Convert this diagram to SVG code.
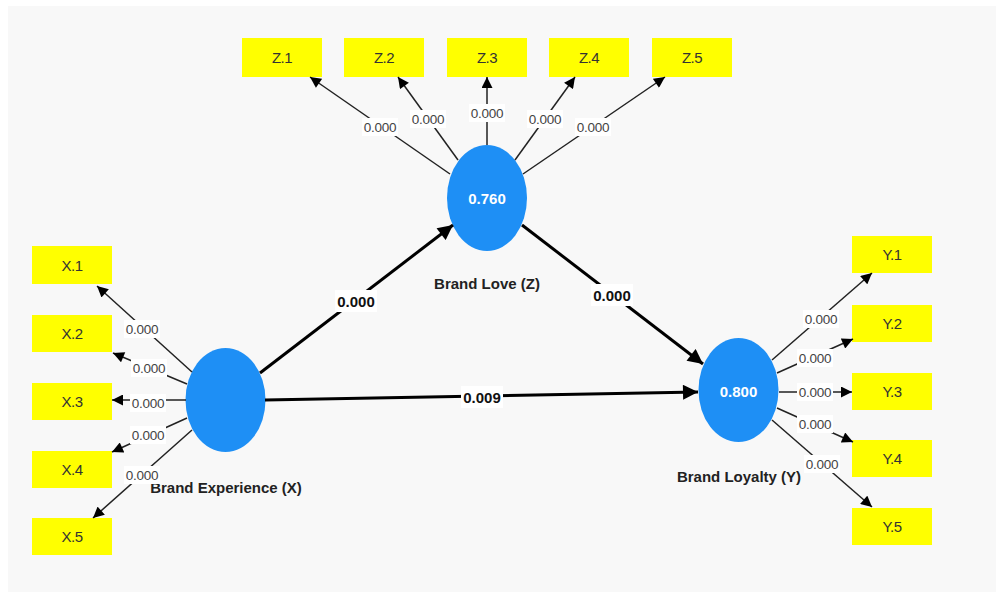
<svg xmlns="http://www.w3.org/2000/svg" width="996" height="592" viewBox="0 0 996 592">
<defs>
<marker id="ah" viewBox="0 0 10 10" refX="10" refY="5" markerWidth="12" markerHeight="11" orient="auto" markerUnits="userSpaceOnUse">
<path d="M0,0 L10,5 L0,10 z" fill="#000"/>
</marker>
<marker id="ah2" viewBox="0 0 10 10" refX="10" refY="5" markerWidth="17" markerHeight="15" orient="auto" markerUnits="userSpaceOnUse">
<path d="M0,0 L10,5 L0,10 z" fill="#000"/>
</marker>
<style>
.box{fill:#ffff00;}
.bt{font-family:"Liberation Sans","DejaVu Sans",sans-serif;font-size:15px;fill:#333;text-anchor:middle;dominant-baseline:central;letter-spacing:-0.5px;}
.lv{fill:#1e8ff5;}
.lvt{font-family:"Liberation Sans","DejaVu Sans",sans-serif;font-size:15px;font-weight:bold;fill:#fff;text-anchor:middle;dominant-baseline:central;}
.nm{font-family:"Liberation Sans","DejaVu Sans",sans-serif;font-size:15px;font-weight:bold;fill:#222;text-anchor:middle;dominant-baseline:central;}
.ld{stroke:#222;stroke-width:1.5;fill:none;}
.st{stroke:#000;stroke-width:3;fill:none;}
.lb{fill:#fff;}
.lt{font-family:"Liberation Sans","DejaVu Sans",sans-serif;font-size:13.5px;fill:#444;text-anchor:middle;dominant-baseline:central;letter-spacing:-0.3px;}
.slt{font-family:"Liberation Sans","DejaVu Sans",sans-serif;font-size:15px;font-weight:bold;fill:#111;text-anchor:middle;dominant-baseline:central;}
</style>
</defs>
<rect x="0" y="0" width="996" height="592" fill="#fff"/>
<rect x="8" y="6" width="988" height="586" fill="#f8f8f8"/>

<g id="nodes">
<g id="Z1"><rect class="box" x="242" y="38" width="80" height="39"/><text class="bt" x="282" y="57">Z.1</text></g>
<g id="Z2"><rect class="box" x="344" y="38" width="80" height="39"/><text class="bt" x="384" y="57">Z.2</text></g>
<g id="Z3"><rect class="box" x="447" y="38" width="80" height="39"/><text class="bt" x="487" y="57">Z.3</text></g>
<g id="Z4"><rect class="box" x="549" y="38" width="80" height="39"/><text class="bt" x="589" y="57">Z.4</text></g>
<g id="Z5"><rect class="box" x="652" y="38" width="80" height="39"/><text class="bt" x="692" y="57">Z.5</text></g>

<g id="X1"><rect class="box" x="32" y="246" width="80" height="38"/><text class="bt" x="72" y="265">X.1</text></g>
<g id="X2"><rect class="box" x="32" y="315" width="80" height="37"/><text class="bt" x="72" y="333">X.2</text></g>
<g id="X3"><rect class="box" x="32" y="383" width="80" height="37"/><text class="bt" x="72" y="401">X.3</text></g>
<g id="X4"><rect class="box" x="32" y="451" width="80" height="37"/><text class="bt" x="72" y="469">X.4</text></g>
<g id="X5"><rect class="box" x="32" y="518" width="80" height="37"/><text class="bt" x="72" y="536">X.5</text></g>

<g id="Y1"><rect class="box" x="852" y="236" width="80" height="37"/><text class="bt" x="892" y="254">Y.1</text></g>
<g id="Y2"><rect class="box" x="852" y="305" width="80" height="37"/><text class="bt" x="892" y="323">Y.2</text></g>
<g id="Y3"><rect class="box" x="852" y="373" width="80" height="37"/><text class="bt" x="892" y="391">Y.3</text></g>
<g id="Y4"><rect class="box" x="852" y="440" width="80" height="37"/><text class="bt" x="892" y="458">Y.4</text></g>
<g id="Y5"><rect class="box" x="852" y="508" width="80" height="37"/><text class="bt" x="892" y="526">Y.5</text></g>

<g id="BrandLove"><ellipse class="lv" cx="487" cy="198" rx="40" ry="53"/><text class="lvt" x="487" y="198">0.760</text><text class="nm" x="487" y="283">Brand Love (Z)</text></g>
<g id="BrandExperience"><ellipse class="lv" cx="225.5" cy="400" rx="40" ry="52"/><text class="nm" x="226" y="487">Brand Experience (X)</text></g>
<g id="BrandLoyalty"><ellipse class="lv" cx="738.5" cy="390" rx="40" ry="52"/><text class="lvt" x="738.5" y="391">0.800</text><text class="nm" x="739" y="476">Brand Loyalty (Y)</text></g>
</g>

<g id="connectors">
<line class="ld" x1="450" y1="174" x2="310" y2="77" marker-end="url(#ah)"/>
<line class="ld" x1="458" y1="160" x2="398" y2="77" marker-end="url(#ah)"/>
<line class="ld" x1="487" y1="145" x2="487" y2="77" marker-end="url(#ah)"/>
<line class="ld" x1="515" y1="160" x2="575" y2="77" marker-end="url(#ah)"/>
<line class="ld" x1="523" y1="174" x2="665" y2="77" marker-end="url(#ah)"/>

<line class="ld" x1="192" y1="372" x2="97" y2="286" marker-end="url(#ah)"/>
<line class="ld" x1="187" y1="384" x2="113" y2="353" marker-end="url(#ah)"/>
<line class="ld" x1="186" y1="400" x2="112" y2="400" marker-end="url(#ah)"/>
<line class="ld" x1="187" y1="418" x2="112" y2="452" marker-end="url(#ah)"/>
<line class="ld" x1="192" y1="430" x2="93" y2="518" marker-end="url(#ah)"/>

<line class="ld" x1="772" y1="360" x2="872" y2="273" marker-end="url(#ah)"/>
<line class="ld" x1="777" y1="373" x2="853" y2="339" marker-end="url(#ah)"/>
<line class="ld" x1="779" y1="392" x2="852" y2="392" marker-end="url(#ah)"/>
<line class="ld" x1="777" y1="408" x2="853" y2="442" marker-end="url(#ah)"/>
<line class="ld" x1="772" y1="420" x2="872" y2="507" marker-end="url(#ah)"/>

<line class="st" x1="260" y1="373" x2="453" y2="225" marker-end="url(#ah2)"/>
<line class="st" x1="522" y1="225" x2="703" y2="364" marker-end="url(#ah2)"/>
<line class="st" x1="265" y1="400" x2="698" y2="392" marker-end="url(#ah2)"/>

<g id="labels">
<rect class="lb" x="362" y="118" width="36" height="18"/><text class="lt" x="380" y="127">0.000</text>
<rect class="lb" x="410" y="110" width="36" height="18"/><text class="lt" x="428" y="119">0.000</text>
<rect class="lb" x="469" y="104" width="36" height="18"/><text class="lt" x="487" y="113">0.000</text>
<rect class="lb" x="527" y="110" width="36" height="18"/><text class="lt" x="545" y="119">0.000</text>
<rect class="lb" x="575" y="118" width="36" height="18"/><text class="lt" x="593" y="127">0.000</text>

<rect class="lb" x="124" y="320" width="36" height="18"/><text class="lt" x="142" y="329">0.000</text>
<rect class="lb" x="131" y="359" width="36" height="18"/><text class="lt" x="149" y="368">0.000</text>
<rect class="lb" x="130" y="394" width="36" height="18"/><text class="lt" x="148" y="403">0.000</text>
<rect class="lb" x="130" y="426" width="36" height="18"/><text class="lt" x="148" y="435">0.000</text>
<rect class="lb" x="124" y="466" width="36" height="18"/><text class="lt" x="142" y="475">0.000</text>

<rect class="lb" x="803" y="310" width="36" height="18"/><text class="lt" x="821" y="319">0.000</text>
<rect class="lb" x="797" y="349" width="36" height="18"/><text class="lt" x="815" y="358">0.000</text>
<rect class="lb" x="797" y="383" width="36" height="18"/><text class="lt" x="815" y="392">0.000</text>
<rect class="lb" x="797" y="415" width="36" height="18"/><text class="lt" x="815" y="424">0.000</text>
<rect class="lb" x="804" y="455" width="36" height="18"/><text class="lt" x="822" y="464">0.000</text>

<rect class="lb" x="335" y="290" width="42" height="22"/><text class="slt" x="356" y="301">0.000</text>
<rect class="lb" x="591" y="284" width="42" height="22"/><text class="slt" x="612" y="295">0.000</text>
<rect class="lb" x="461" y="386" width="42" height="22"/><text class="slt" x="482" y="397">0.009</text>
</g>
</g>
</svg>
